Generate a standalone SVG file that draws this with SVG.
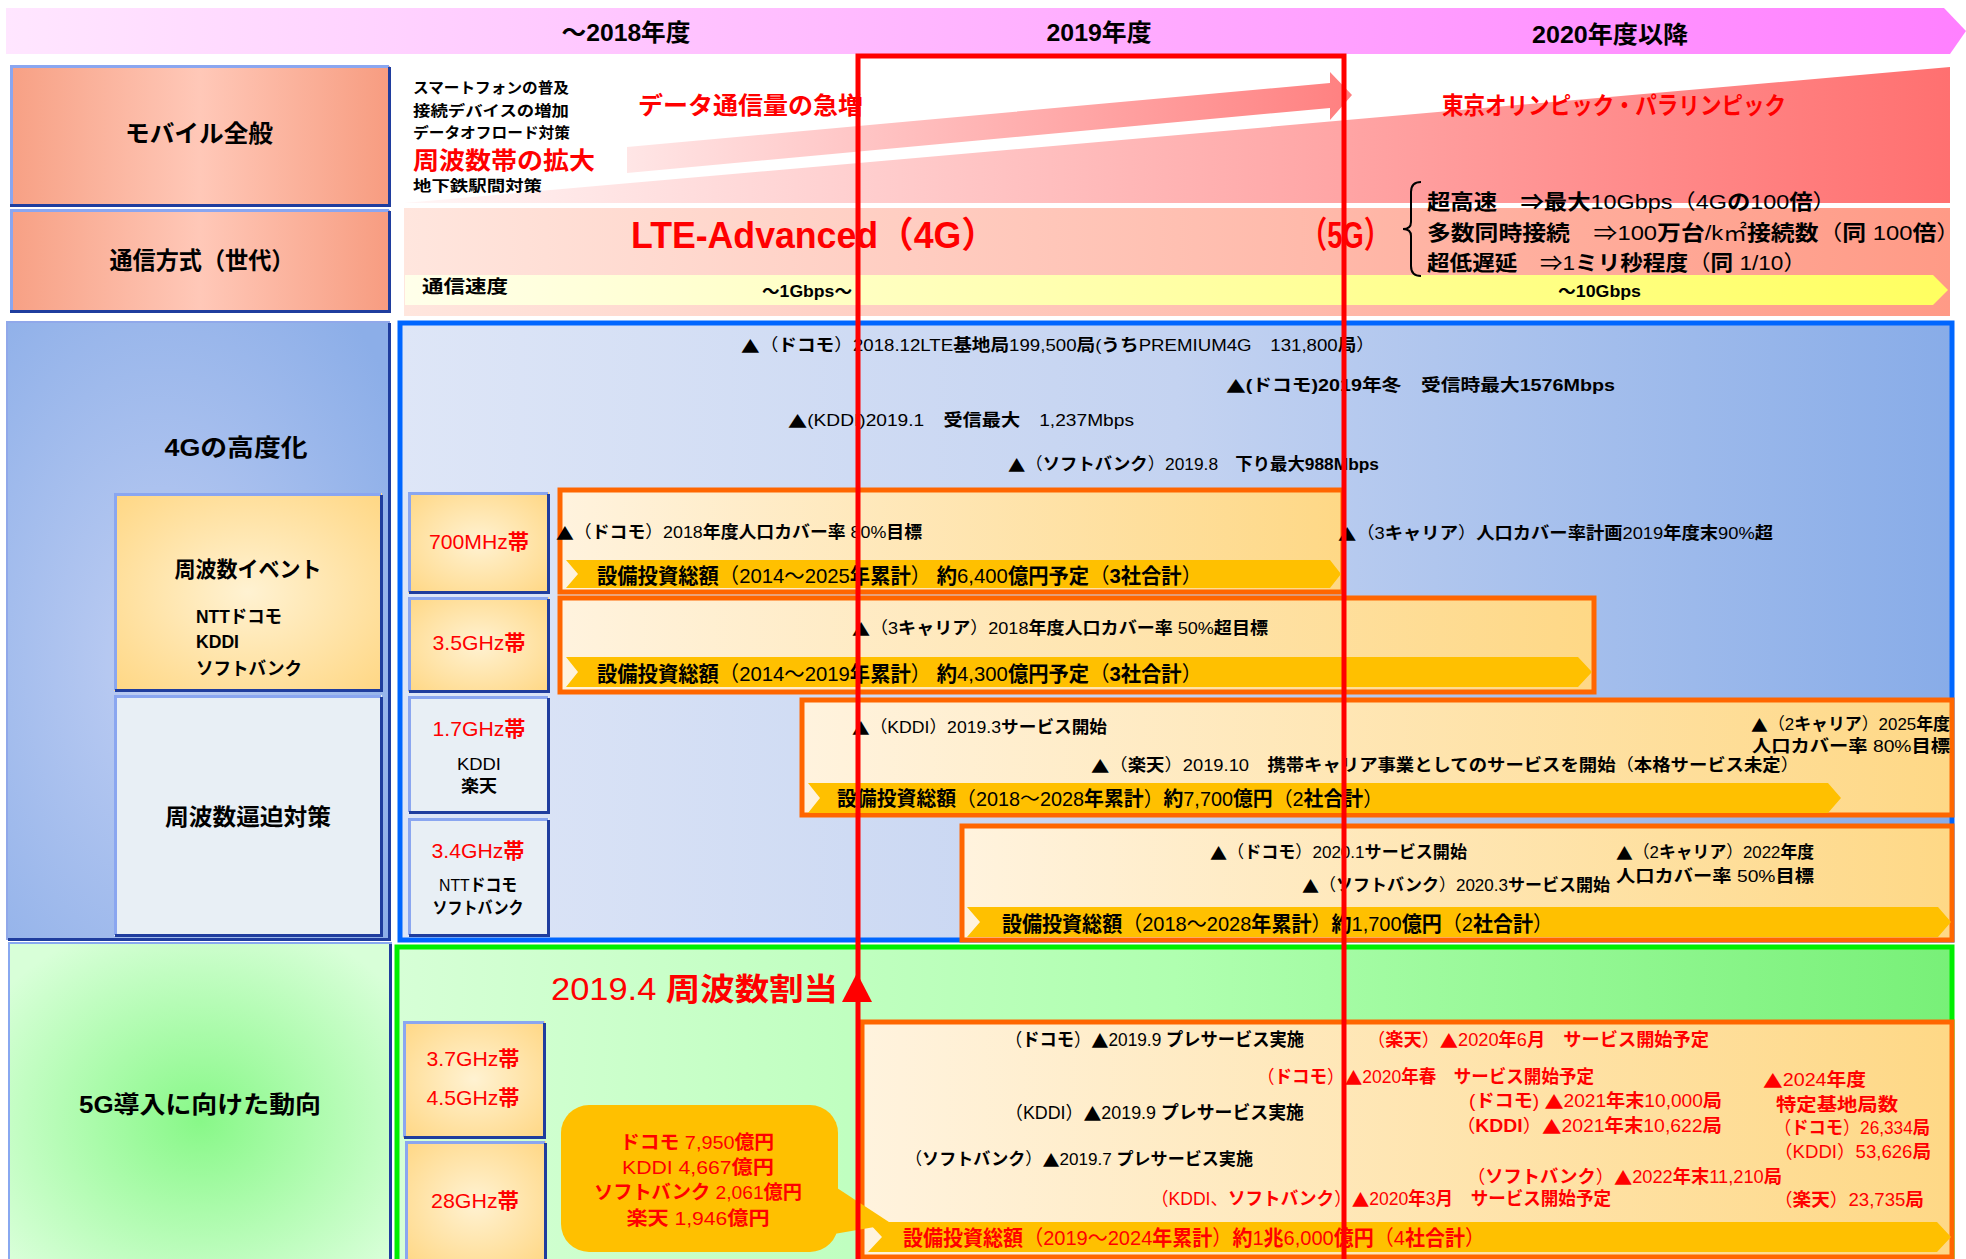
<svg xmlns="http://www.w3.org/2000/svg" width="1966" height="1259" viewBox="0 0 1966 1259">
<defs>
<style>
text{font-family:"Liberation Sans","Noto Sans CJK JP",sans-serif;dominant-baseline:central;fill:#000}
.b{font-weight:700}
.r{fill:#ff0000}
.tri{font-family:"Noto Sans CJK JP",sans-serif}
.hd{font-size:24px;font-weight:700}
.lb{font-size:24px;font-weight:700}
.sm{font-size:15px;font-weight:700}
.ev{font-size:17px}
.bd{font-size:21px}
.fq{font-size:21px;fill:#ff0000}
.f5{font-size:18px}
.ob{fill:url(#gOr);stroke:#ff6600;stroke-width:5}
.band{fill:#ffc000}
.hl{fill:none;stroke:#8aa6f0;stroke-width:3}
.sh{fill:none;stroke:#1f3d9e;stroke-width:3}
</style>
<linearGradient id="gBanner" x1="0" x2="1" y1="0" y2="0"><stop offset="0" stop-color="#ffe6ff"/><stop offset="1" stop-color="#ff80ff"/></linearGradient>
<linearGradient id="gSal" x1="0" x2="1" y1="0" y2="0"><stop offset="0" stop-color="#f7a084"/><stop offset="0.5" stop-color="#ffc8b8"/><stop offset="1" stop-color="#f79c80"/></linearGradient>
<linearGradient id="gWedge" gradientUnits="userSpaceOnUse" x1="404" y1="0" x2="1950" y2="0"><stop offset="0" stop-color="#fff6f6"/><stop offset="1" stop-color="#ff7070"/></linearGradient>
<linearGradient id="gArrow" gradientUnits="userSpaceOnUse" x1="627" y1="0" x2="1352" y2="0"><stop offset="0" stop-color="#ffe6e6"/><stop offset="1" stop-color="#ff8080"/></linearGradient>
<linearGradient id="gRow2" x1="0" x2="1" y1="0" y2="0"><stop offset="0" stop-color="#ffe6de"/><stop offset="1" stop-color="#ff9a86"/></linearGradient>
<linearGradient id="gSpeed" x1="0" x2="1" y1="0" y2="0"><stop offset="0" stop-color="#ffffea"/><stop offset="1" stop-color="#ffff60"/></linearGradient>
<radialGradient id="gBlue" cx="0.4" cy="0.55" r="0.75"><stop offset="0" stop-color="#bfcef3"/><stop offset="1" stop-color="#8caee8"/></radialGradient>
<radialGradient id="gYel" cx="0.5" cy="0.5" r="0.7"><stop offset="0" stop-color="#fff2d2"/><stop offset="1" stop-color="#ffd784"/></radialGradient>
<radialGradient id="gGrn" cx="0.5" cy="0.55" r="0.65"><stop offset="0" stop-color="#88f888"/><stop offset="1" stop-color="#d8ffd8"/></radialGradient>
<linearGradient id="g4G" x1="0" x2="1" y1="0" y2="0"><stop offset="0" stop-color="#dee6f7"/><stop offset="0.5" stop-color="#c4d3f1"/><stop offset="1" stop-color="#88ace8"/></linearGradient>
<linearGradient id="g5G" x1="0" x2="1" y1="0" y2="0"><stop offset="0" stop-color="#d6ffd6"/><stop offset="0.5" stop-color="#b0ffb0"/><stop offset="1" stop-color="#78f078"/></linearGradient>
<linearGradient id="gOr" x1="0" x2="1" y1="0" y2="0"><stop offset="0" stop-color="#fff3de"/><stop offset="1" stop-color="#fed886"/></linearGradient>
</defs>
<rect width="1966" height="1259" fill="#ffffff"/>

<g id="header">
<polygon points="6,8 1944,8 1966,31 1950,54 6,54" fill="url(#gBanner)"/>
<text class="hd" x="626" y="32" text-anchor="middle" textLength="129" lengthAdjust="spacingAndGlyphs">～2018年度</text>
<text class="hd" x="1099" y="32" text-anchor="middle" textLength="105" lengthAdjust="spacingAndGlyphs">2019年度</text>
<text class="hd" x="1610" y="34" text-anchor="middle" textLength="156" lengthAdjust="spacingAndGlyphs">2020年度以降</text>
</g>

<g id="label-mobile">
<rect x="10" y="66" width="380" height="140" fill="url(#gSal)"/>
<path class="hl" d="M11.5 205 V66.5 H389"/>
<path class="sh" d="M389.5 67 V205.5 H10"/>
<text class="lb" x="199" y="133" text-anchor="middle" textLength="148" lengthAdjust="spacingAndGlyphs">モバイル全般</text>
</g>

<g id="label-generation">
<rect x="10" y="210" width="380" height="102" fill="url(#gSal)"/>
<path class="hl" d="M11.5 311 V210.5 H389"/>
<path class="sh" d="M389.5 211 V311.5 H10"/>
<text class="lb" x="202" y="260" text-anchor="middle" font-size="25" textLength="185" lengthAdjust="spacingAndGlyphs">通信方式（世代）</text>
</g>

<g id="mobile-content">
<polygon points="404,203 1950,67 1950,203" fill="url(#gWedge)"/>
<polygon points="627,147 1330,83 1330,72 1352,95 1330,120 1330,108 627,173" fill="url(#gArrow)"/>
<text class="sm" x="413" y="87" textLength="156" lengthAdjust="spacingAndGlyphs">スマートフォンの普及</text>
<text class="sm" x="413" y="110" textLength="156" lengthAdjust="spacingAndGlyphs">接続デバイスの増加</text>
<text class="sm" x="413" y="132" textLength="157" lengthAdjust="spacingAndGlyphs">データオフロード対策</text>
<text class="r b" x="413" y="160" font-size="24" textLength="182" lengthAdjust="spacingAndGlyphs">周波数帯の拡大</text>
<text class="sm" x="413" y="185" textLength="129" lengthAdjust="spacingAndGlyphs">地下鉄駅間対策</text>
<text class="r b" x="638" y="105" font-size="24" textLength="225" lengthAdjust="spacingAndGlyphs">データ通信量の急増</text>
<text class="r b" x="1442" y="105" font-size="24" textLength="344" lengthAdjust="spacingAndGlyphs">東京オリンピック・パラリンピック</text>
</g>

<g id="generation-content">
<rect x="404" y="208" width="1546" height="108" fill="url(#gRow2)"/>
<polygon points="405,275 1933,275 1948,290 1933,305 405,305" fill="url(#gSpeed)"/>
<text class="r b" x="631" y="235" font-size="36" textLength="366" lengthAdjust="spacingAndGlyphs">LTE-Advanced（4G）</text>
<text class="r b" x="1300" y="235" font-size="36" textLength="91" lengthAdjust="spacingAndGlyphs">（5G）</text>
<path d="M1421 182 Q1411 182 1411 192 V222 Q1411 229 1403 229 Q1411 229 1411 236 V266 Q1411 276 1421 276" fill="none" stroke="#000" stroke-width="2"/>
<text x="1427" y="201" font-size="21" textLength="409" lengthAdjust="spacingAndGlyphs"><tspan class="b">超高速</tspan>　<tspan class="b">⇒最大</tspan>10Gbps（4G<tspan class="b">の</tspan>100<tspan class="b">倍</tspan>）</text>
<text x="1427" y="232" font-size="21" textLength="533" lengthAdjust="spacingAndGlyphs"><tspan class="b">多数同時接続</tspan>　⇒100<tspan class="b">万台</tspan>/k㎡<tspan class="b">接続数</tspan>（<tspan class="b">同</tspan> 100<tspan class="b">倍</tspan>）</text>
<text x="1427" y="262" font-size="21" textLength="379" lengthAdjust="spacingAndGlyphs"><tspan class="b">超低遅延</tspan>　⇒1<tspan class="b">ミリ秒程度</tspan>（<tspan class="b">同</tspan> 1/10）</text>
<text class="b" x="422" y="287" font-size="18" textLength="86" lengthAdjust="spacingAndGlyphs">通信速度</text>
<text class="b" x="762" y="291" font-size="16" textLength="90" lengthAdjust="spacingAndGlyphs">～1Gbps～</text>
<text class="b" x="1558" y="291" font-size="16" textLength="83" lengthAdjust="spacingAndGlyphs">～10Gbps</text>
</g>

<g id="label-4g">
<rect x="7" y="322" width="382" height="617" fill="url(#gBlue)" stroke="#90a8ea" stroke-width="2"/>
<path class="sh" d="M389.5 323 V939.5 H8" stroke-width="2"/>
<text class="lb" x="236" y="447" text-anchor="middle" textLength="143" lengthAdjust="spacingAndGlyphs">4Gの高度化</text>
</g>

<g id="label-freq-event">
<rect x="114" y="493" width="268" height="198" fill="url(#gYel)"/>
<path class="hl" d="M115.5 690 V494.5 H381"/>
<path class="sh" d="M381.5 495 V690.5 H115"/>
<text class="b" x="248" y="569" font-size="22" text-anchor="middle" textLength="147" lengthAdjust="spacingAndGlyphs">周波数イベント</text>
<text class="b" x="196" y="617" font-size="18" textLength="86" lengthAdjust="spacingAndGlyphs">NTTドコモ</text>
<text class="b" x="196" y="642" font-size="18" textLength="43" lengthAdjust="spacingAndGlyphs">KDDI</text>
<text class="b" x="196" y="669" font-size="18" textLength="106" lengthAdjust="spacingAndGlyphs">ソフトバンク</text>
</g>

<g id="label-freq-pressure">
<rect x="114" y="695" width="268" height="241" fill="#e8eff5"/>
<path class="hl" d="M115.5 935 V696.5 H381"/>
<path class="sh" d="M381.5 697 V935.5 H115"/>
<text class="b" x="248" y="817" font-size="23" text-anchor="middle" textLength="166" lengthAdjust="spacingAndGlyphs">周波数逼迫対策</text>
</g>

<g id="section-4g">
<rect x="400" y="323" width="1552" height="617" fill="url(#g4G)" stroke="#0066ff" stroke-width="5"/>
<text class="ev" x="741" y="345" textLength="634" lengthAdjust="spacingAndGlyphs"><tspan class="tri">▲</tspan>（<tspan class="b">ドコモ</tspan>）2018.12LTE<tspan class="b">基地局</tspan>199,500<tspan class="b">局</tspan>(<tspan class="b">うち</tspan>PREMIUM4G　131,800<tspan class="b">局</tspan>）</text>
<text class="ev b" x="1226" y="385" textLength="389" lengthAdjust="spacingAndGlyphs"><tspan class="tri">▲</tspan>(ドコモ)2019年冬　受信時最大1576Mbps</text>
<text class="ev" x="788" y="420" textLength="346" lengthAdjust="spacingAndGlyphs"><tspan class="tri">▲</tspan>(KDDI)2019.1　<tspan class="b">受信最大</tspan>　1,237Mbps</text>
<text class="ev" x="1008" y="464" textLength="371" lengthAdjust="spacingAndGlyphs"><tspan class="tri">▲</tspan>（<tspan class="b">ソフトバンク</tspan>）2019.8　<tspan class="b">下り最大988Mbps</tspan></text>
</g>

<g id="band-700mhz">
<rect x="408" y="492" width="141" height="101" fill="url(#gYel)"/>
<path class="hl" d="M409.5 592 V493.5 H548"/>
<path class="sh" d="M548.5 494 V592.5 H409"/>
<text class="fq" x="479" y="541" text-anchor="middle" textLength="100" lengthAdjust="spacingAndGlyphs">700MHz<tspan class="b">帯</tspan></text>
<rect class="ob" x="560" y="490" width="783" height="102"/>
<polygon class="band" points="566,560 1330,560 1341,574 1330,588 566,588 578,574"/>
<text class="ev" x="556" y="532" textLength="366" lengthAdjust="spacingAndGlyphs"><tspan class="tri">▲</tspan>（<tspan class="b">ドコモ</tspan>）2018<tspan class="b">年度人口カバー率</tspan> 80%<tspan class="b">目標</tspan></text>
<text class="bd" x="597" y="575" textLength="605" lengthAdjust="spacingAndGlyphs"><tspan class="b">設備投資総額</tspan>（2014～2025<tspan class="b">年累計</tspan>） <tspan class="b">約</tspan>6,400<tspan class="b">億円予定</tspan>（<tspan class="b">3社合計</tspan>）</text>
<text class="ev" x="1338" y="533" textLength="435" lengthAdjust="spacingAndGlyphs"><tspan class="tri">▲</tspan>（3<tspan class="b">キャリア</tspan>）<tspan class="b">人口カバー率計画</tspan>2019<tspan class="b">年度末</tspan>90%<tspan class="b">超</tspan></text>
</g>

<g id="band-3-5ghz">
<rect x="408" y="597" width="141" height="95" fill="url(#gYel)"/>
<path class="hl" d="M409.5 691 V598.5 H548"/>
<path class="sh" d="M548.5 599 V691.5 H409"/>
<text class="fq" x="479" y="642" text-anchor="middle" textLength="93" lengthAdjust="spacingAndGlyphs">3.5GHz<tspan class="b">帯</tspan></text>
<rect class="ob" x="560" y="598" width="1034" height="94"/>
<polygon class="band" points="566,657 1578,657 1592,672 1578,687 566,687 578,672"/>
<text class="ev" x="852" y="628" textLength="416" lengthAdjust="spacingAndGlyphs"><tspan class="tri">▲</tspan>（3<tspan class="b">キャリア</tspan>）2018<tspan class="b">年度人口カバー率</tspan> 50%<tspan class="b">超目標</tspan></text>
<text class="bd" x="597" y="673" textLength="605" lengthAdjust="spacingAndGlyphs"><tspan class="b">設備投資総額</tspan>（2014～2019<tspan class="b">年累計</tspan>） <tspan class="b">約</tspan>4,300<tspan class="b">億円予定</tspan>（<tspan class="b">3社合計</tspan>）</text>
</g>

<g id="band-1-7ghz">
<rect x="408" y="696" width="141" height="117" fill="#e8eff5"/>
<path class="hl" d="M409.5 812 V697.5 H548"/>
<path class="sh" d="M548.5 698 V812.5 H409"/>
<text class="fq" x="479" y="728" text-anchor="middle" textLength="93" lengthAdjust="spacingAndGlyphs">1.7GHz<tspan class="b">帯</tspan></text>
<text x="479" y="764" font-size="17" text-anchor="middle" textLength="44" lengthAdjust="spacingAndGlyphs">KDDI</text>
<text class="b" x="479" y="786" font-size="17" text-anchor="middle" textLength="36" lengthAdjust="spacingAndGlyphs">楽天</text>
<rect class="ob" x="802" y="700" width="1150" height="115"/>
<polygon class="band" points="808,783 1828,783 1841,798 1828,813 808,813 820,798"/>
<text class="ev" x="852" y="727" textLength="255" lengthAdjust="spacingAndGlyphs"><tspan class="tri">▲</tspan>（KDDI）2019.3<tspan class="b">サービス開始</tspan></text>
<text class="ev" x="1751" y="724" textLength="199" lengthAdjust="spacingAndGlyphs"><tspan class="tri">▲</tspan>（2<tspan class="b">キャリア</tspan>）2025<tspan class="b">年度</tspan></text>
<text class="ev" x="1752" y="746" textLength="198" lengthAdjust="spacingAndGlyphs"><tspan class="b">人口カバー率</tspan> 80%<tspan class="b">目標</tspan></text>
<text class="ev" x="1091" y="765" textLength="708" lengthAdjust="spacingAndGlyphs"><tspan class="tri">▲</tspan>（<tspan class="b">楽天</tspan>）2019.10　<tspan class="b">携帯キャリア事業としてのサービスを開始</tspan>（<tspan class="b">本格サービス未定</tspan>）</text>
<text x="837" y="799" font-size="20" textLength="546" lengthAdjust="spacingAndGlyphs"><tspan class="b">設備投資総額</tspan>（2018～2028<tspan class="b">年累計</tspan>）<tspan class="b">約</tspan>7,700<tspan class="b">億円</tspan>（2<tspan class="b">社合計</tspan>）</text>
</g>

<g id="band-3-4ghz">
<rect x="408" y="818" width="141" height="118" fill="#e8eff5"/>
<path class="hl" d="M409.5 935 V819.5 H548"/>
<path class="sh" d="M548.5 820 V935.5 H409"/>
<text class="fq" x="478" y="850" text-anchor="middle" textLength="93" lengthAdjust="spacingAndGlyphs">3.4GHz<tspan class="b">帯</tspan></text>
<text x="478" y="885" font-size="17" text-anchor="middle" textLength="78" lengthAdjust="spacingAndGlyphs">NTT<tspan class="b">ドコモ</tspan></text>
<text class="b" x="478" y="908" font-size="17" text-anchor="middle" textLength="91" lengthAdjust="spacingAndGlyphs">ソフトバンク</text>
<rect class="ob" x="962" y="826" width="990" height="114"/>
<polygon class="band" points="967,907 1938,907 1951,922 1938,937 967,937 980,922"/>
<text class="ev" x="1210" y="852" textLength="257" lengthAdjust="spacingAndGlyphs"><tspan class="tri">▲</tspan>（<tspan class="b">ドコモ</tspan>）2020.1<tspan class="b">サービス開始</tspan></text>
<text class="ev" x="1302" y="885" textLength="308" lengthAdjust="spacingAndGlyphs"><tspan class="tri">▲</tspan>（<tspan class="b">ソフトバンク</tspan>）2020.3<tspan class="b">サービス開始</tspan></text>
<text class="ev" x="1616" y="852" textLength="198" lengthAdjust="spacingAndGlyphs"><tspan class="tri">▲</tspan>（2<tspan class="b">キャリア</tspan>）2022<tspan class="b">年度</tspan></text>
<text class="ev" x="1616" y="876" textLength="198" lengthAdjust="spacingAndGlyphs"><tspan class="b">人口カバー率</tspan> 50%<tspan class="b">目標</tspan></text>
<text class="bd" x="1002" y="923" textLength="551" lengthAdjust="spacingAndGlyphs"><tspan class="b">設備投資総額</tspan>（2018～2028<tspan class="b">年累計</tspan>）<tspan class="b">約</tspan>1,700<tspan class="b">億円</tspan>（2<tspan class="b">社合計</tspan>）</text>
</g>

<g id="label-5g">
<rect x="9" y="943" width="382" height="322" fill="url(#gGrn)" stroke="#88a8f0" stroke-width="2"/>
<path class="sh" d="M390.5 944 V1262" stroke-width="2"/>
<text class="lb" x="200" y="1104" text-anchor="middle" textLength="242" lengthAdjust="spacingAndGlyphs">5G導入に向けた動向</text>
</g>

<g id="section-5g">
<rect x="397" y="947" width="1555" height="320" fill="url(#g5G)" stroke="#00ee00" stroke-width="5"/>
<text class="r" x="551" y="989" font-size="31" textLength="287" lengthAdjust="spacingAndGlyphs">2019.4 <tspan class="b">周波数割当</tspan></text>
</g>

<g id="band-3-7ghz">
<rect x="403" y="1021" width="142" height="117" fill="url(#gYel)"/>
<path class="hl" d="M404.5 1137 V1022.5 H544"/>
<path class="sh" d="M544.5 1023 V1137.5 H404"/>
<text class="fq" x="473" y="1058" text-anchor="middle" textLength="93" lengthAdjust="spacingAndGlyphs">3.7GHz<tspan class="b">帯</tspan></text>
<text class="fq" x="473" y="1097" text-anchor="middle" textLength="93" lengthAdjust="spacingAndGlyphs">4.5GHz<tspan class="b">帯</tspan></text>
</g>

<g id="band-28ghz">
<rect x="405" y="1141" width="141" height="124" fill="url(#gYel)"/>
<path class="hl" d="M406.5 1265 V1142.5 H545"/>
<path class="sh" d="M545.5 1143 V1265"/>
<text class="fq" x="475" y="1200" text-anchor="middle" textLength="88" lengthAdjust="spacingAndGlyphs">28GHz<tspan class="b">帯</tspan></text>
</g>

<g id="events-5g">
<rect class="ob" x="862" y="1022" width="1090" height="235"/>
<polygon class="band" points="868,1222 1937,1222 1951,1237 1937,1252 868,1252 882,1237"/>
<text class="f5" x="1005" y="1040" textLength="299" lengthAdjust="spacingAndGlyphs">（<tspan class="b">ドコモ</tspan>）<tspan class="tri">▲</tspan>2019.9 <tspan class="b">プレサービス実施</tspan></text>
<text class="f5" x="1005" y="1113" textLength="299" lengthAdjust="spacingAndGlyphs">（KDDI）<tspan class="tri">▲</tspan>2019.9 <tspan class="b">プレサービス実施</tspan></text>
<text x="905" y="1159" font-size="17" textLength="348" lengthAdjust="spacingAndGlyphs">（<tspan class="b">ソフトバンク</tspan>）<tspan class="tri">▲</tspan>2019.7 <tspan class="b">プレサービス実施</tspan></text>
<text class="f5 r" x="1151" y="1199" textLength="460" lengthAdjust="spacingAndGlyphs">（KDDI、<tspan class="b">ソフトバンク</tspan>）<tspan class="tri">▲</tspan>2020<tspan class="b">年</tspan>3<tspan class="b">月</tspan>　<tspan class="b">サービス開始予定</tspan></text>
<text class="f5 r" x="1367" y="1040" textLength="342" lengthAdjust="spacingAndGlyphs">（<tspan class="b">楽天</tspan>）<tspan class="tri">▲</tspan>2020<tspan class="b">年</tspan>6<tspan class="b">月</tspan>　<tspan class="b">サービス開始予定</tspan></text>
<text class="f5 r" x="1257" y="1077" textLength="337" lengthAdjust="spacingAndGlyphs">（<tspan class="b">ドコモ</tspan>）<tspan class="tri">▲</tspan>2020<tspan class="b">年春</tspan>　<tspan class="b">サービス開始予定</tspan></text>
<text class="f5 r" x="1469" y="1101" textLength="253" lengthAdjust="spacingAndGlyphs">(<tspan class="b">ドコモ</tspan>) <tspan class="tri">▲</tspan>2021<tspan class="b">年末</tspan>10,000<tspan class="b">局</tspan></text>
<text class="f5 r" x="1456" y="1126" textLength="266" lengthAdjust="spacingAndGlyphs">（<tspan class="b">KDDI</tspan>）<tspan class="tri">▲</tspan>2021<tspan class="b">年末</tspan>10,622<tspan class="b">局</tspan></text>
<text class="f5 r" x="1467" y="1177" textLength="315" lengthAdjust="spacingAndGlyphs">（<tspan class="b">ソフトバンク</tspan>）<tspan class="tri">▲</tspan>2022<tspan class="b">年末</tspan>11,210<tspan class="b">局</tspan></text>
<text class="f5 r" x="1763" y="1080" textLength="103" lengthAdjust="spacingAndGlyphs"><tspan class="tri">▲</tspan>2024<tspan class="b">年度</tspan></text>
<text class="f5 r b" x="1776" y="1105" textLength="122" lengthAdjust="spacingAndGlyphs">特定基地局数</text>
<text class="f5 r" x="1774" y="1128" textLength="156" lengthAdjust="spacingAndGlyphs">（<tspan class="b">ドコモ</tspan>）26,334<tspan class="b">局</tspan></text>
<text class="f5 r" x="1774" y="1152" textLength="157" lengthAdjust="spacingAndGlyphs">（KDDI）53,626<tspan class="b">局</tspan></text>
<text class="f5 r" x="1774" y="1200" textLength="150" lengthAdjust="spacingAndGlyphs">（<tspan class="b">楽天</tspan>）23,735<tspan class="b">局</tspan></text>
<text class="bd r" x="903" y="1237" textLength="582" lengthAdjust="spacingAndGlyphs"><tspan class="b">設備投資総額</tspan>（2019～2024<tspan class="b">年累計</tspan>）<tspan class="b">約</tspan>1<tspan class="b">兆</tspan>6,000<tspan class="b">億円</tspan>（4<tspan class="b">社合計</tspan>）</text>
</g>

<g id="investment-callout">
<rect x="561" y="1105" width="277" height="147" rx="28" fill="#ffc000"/>
<text class="r" x="697" y="1142" font-size="19" text-anchor="middle" textLength="154" lengthAdjust="spacingAndGlyphs"><tspan class="b">ドコモ</tspan> 7,950<tspan class="b">億円</tspan></text>
<text class="r" x="698" y="1167" font-size="19" text-anchor="middle" textLength="152" lengthAdjust="spacingAndGlyphs">KDDI 4,667<tspan class="b">億円</tspan></text>
<text class="r" x="698" y="1192" font-size="19" text-anchor="middle" textLength="208" lengthAdjust="spacingAndGlyphs"><tspan class="b">ソフトバンク</tspan> 2,061<tspan class="b">億円</tspan></text>
<text class="r" x="698" y="1218" font-size="19" text-anchor="middle" textLength="143" lengthAdjust="spacingAndGlyphs"><tspan class="b">楽天</tspan> 1,946<tspan class="b">億円</tspan></text>
</g>

<g id="connectors">
<polygon points="834,1186 892,1224 834,1234" fill="#ffc000"/>
</g>

<g id="frame-2019">
<rect x="858" y="56" width="486" height="1215" fill="none" stroke="#ff0000" stroke-width="5"/>
<polygon points="842,1002 872,1002 857,973" fill="#ff0000"/>
</g>
</svg>
